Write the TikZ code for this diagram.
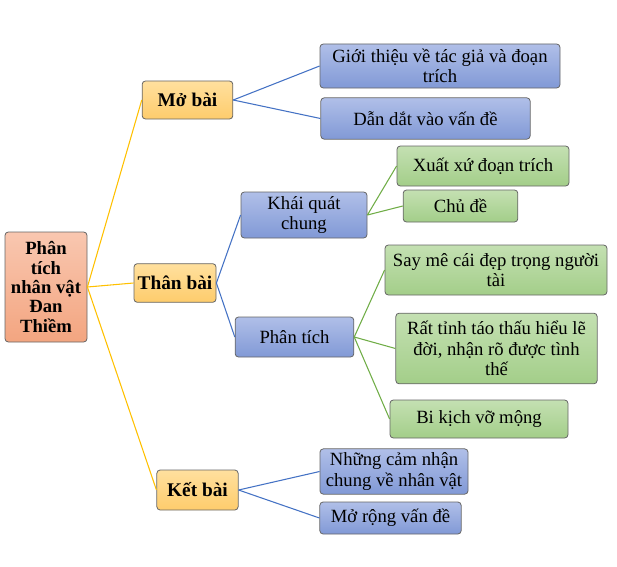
\documentclass[tikz,border=0pt]{standalone}
\usepackage{fontspec}
\setmainfont{Liberation Serif}
\begin{document}
\begin{tikzpicture}[x=0.75pt,y=-0.75pt,
        box/.style={
        rectangle, rounded corners=2.5pt, draw=black!60, line width=0.6pt,
        inner sep=0pt, align=center, font=\fontsize{14}{15.4}\selectfont},
        rootbox/.style={box, top color=rootTop, bottom color=rootBot,
        font=\fontsize{14}{14.6}\selectfont\bfseries},
        mainbox/.style={box, top color=yelTop, bottom color=yelBot,
        font=\fontsize{14.5}{16}\selectfont\bfseries},
        bluebox/.style={box, top color=bluTop, bottom color=bluBot},
        greenbox/.style={box, top color=grnTop, bottom color=grnBot},
        ylink/.style={draw=yelLine, line width=0.8pt},
        blink/.style={draw=bluLine, line width=0.8pt},
        glink/.style={draw=grnLine, line width=0.8pt},
        ]
        \definecolor{rootTop}{RGB}{249,199,176}
        \definecolor{rootBot}{RGB}{243,165,128}
        \definecolor{yelTop}{RGB}{255,224,158}
        \definecolor{yelBot}{RGB}{254,204,108}
        \definecolor{bluTop}{RGB}{176,191,232}
        \definecolor{bluBot}{RGB}{129,153,214}
        \definecolor{grnTop}{RGB}{196,224,178}
        \definecolor{grnBot}{RGB}{163,206,137}
        \definecolor{yelLine}{RGB}{255,192,0}
        \definecolor{bluLine}{RGB}{68,114,196}
        \definecolor{grnLine}{RGB}{112,173,71}

        \useasboundingbox (0,0) rectangle (617,567);

        % root and main parts
        \node (root) [rootbox, minimum width=61.5pt, minimum height=82.5pt] at (46,287)
            {Phân\\tích\\nhân vật\\Đan\\Thiềm};
        \node (mo) [mainbox, minimum width=68pt, minimum height=28.5pt] at (187.5,100) {Mở bài};
        \node (than) [mainbox, minimum width=61.5pt, minimum height=29pt] at (175,283) {Thân bài};
        \node (ket) [mainbox, minimum width=61pt, minimum height=30pt] at (197.5,490) {Kết bài};

        % mo bai
        \node (gioi) [bluebox, minimum width=180pt, minimum height=33pt] at (440,66)
            {Giới thiệu về tác giả và đoạn\\trích};
        \node (dan) [bluebox, minimum width=157pt, minimum height=31pt] at (425.5,118.5)
            {Dẫn dắt vào vấn đề};

        % than bai
        \node (khai) [bluebox, minimum width=94.5pt, minimum height=34.5pt] at (304,215)
            {Khái quát\\chung};
        \node (phan) [bluebox, minimum width=89pt, minimum height=30pt] at (294.5,337)
            {Phân tích};
        \node (xuat) [greenbox, minimum width=129pt, minimum height=30pt] at (483,166)
            {Xuất xứ đoạn trích};
        \node (chu) [greenbox, minimum width=86pt, minimum height=24pt] at (460.5,206)
            {Chủ đề};
        \node (say) [greenbox, minimum width=166.5pt, minimum height=37.5pt] at (496,270)
            {Say mê cái đẹp trọng người\\tài};
        \node (tinh) [greenbox, minimum width=151pt, minimum height=53pt] at (496.5,348.5)
            {Rất tỉnh táo thấu hiểu lẽ\\đời, nhận rõ được tình\\thế};
        \node (bi) [greenbox, minimum width=133.5pt, minimum height=28.5pt] at (479,419)
            {Bi kịch vỡ mộng};

        % ket bai
        \node (nhung) [bluebox, minimum width=111pt, minimum height=34pt] at (394,471.5)
            {Những cảm nhận\\chung về nhân vật};
        \node (rong) [bluebox, minimum width=106pt, minimum height=24pt] at (390.5,518)
            {Mở rộng vấn đề};

        \draw [ylink] (root.east) -- (mo.west);
        \draw [ylink] (root.east) -- (than.west);
        \draw [ylink] (root.east) -- (ket.west);
        \draw [blink] (mo.east) -- (gioi.west);
        \draw [blink] (mo.east) -- (dan.west);
        \draw [blink] (than.east) -- (khai.west);
        \draw [blink] (than.east) -- (phan.west);
        \draw [glink] (khai.east) -- (xuat.west);
        \draw [glink] (khai.east) -- (chu.west);
        \draw [glink] (phan.east) -- (say.west);
        \draw [glink] (phan.east) -- (tinh.west);
        \draw [glink] (phan.east) -- (bi.west);
        \draw [blink] (ket.east) -- (nhung.west);
        \draw [blink] (ket.east) -- (rong.west);
    \end{tikzpicture}
\end{document}
